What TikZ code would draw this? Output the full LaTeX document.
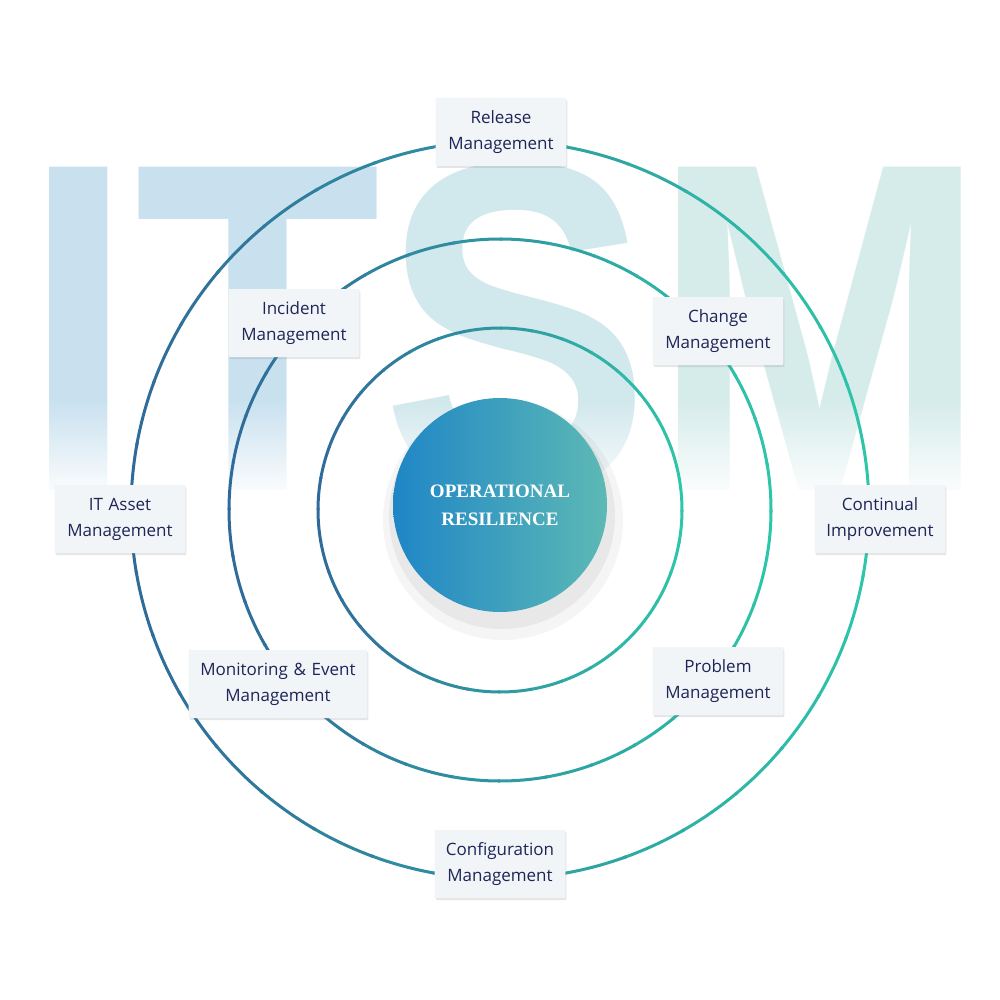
\documentclass[tikz,border=0pt]{standalone}
\usepackage{fontspec}
\setmainfont{Open Sans}
\newfontfamily\bigfont{Liberation Sans}
\newfontfamily\serifb{Liberation Serif}
\usetikzlibrary{shadows,fadings}
\definecolor{cA}{HTML}{2F6A9A}
\definecolor{cB}{HTML}{2EC6A9}
\definecolor{navy}{HTML}{1E2557}
\definecolor{boxf}{HTML}{F2F5F8}
\definecolor{lettL}{HTML}{C9E1EF}
\definecolor{lettR}{HTML}{D6ECEB}
\definecolor{gl}{HTML}{1F86C6}
\definecolor{gr}{HTML}{5DB9B5}
\tikzset{
  box/.style={draw=none,fill=boxf,rounded corners=1pt,minimum height=68pt,text width=#1,align=center,
    font=\fontsize{17}{26}\selectfont,text=navy,drop shadow={shadow xshift=1pt,shadow yshift=-2pt,opacity=0.2,fill=gray}},
  box/.default=124pt
}
\begin{document}
\begin{tikzpicture}[x=1pt,y=-1pt]
\useasboundingbox (0,0) rectangle (1000,1000);
\fill[white] (0,0) rectangle (1000,1000);
% big letters
\node[text=lettL,font=\bigfont\bfseries\fontsize{470}{470}\selectfont,xscale=0.86,inner sep=0,anchor=center] (itsm) at (505,329) {IT\textcolor{lettR!60!lettL}{S}\textcolor{lettR}{M}};
\fill[white,path fading=north] (0,400) rectangle (1000,500);
% rings
\foreach \r/\nm in {182/inner,271/mid,369/outer}{
  \foreach \i in {0,...,35}{
    \pgfmathsetmacro\a{\i*10}
    \pgfmathsetmacro\b{\a+10.5}
    \pgfmathsetmacro\m{round(50+50*cos(\a+5))}
    \draw[line width=3pt,color=cB!\m!cA] (500,510) ++(\a:\r) arc[start angle=\a,end angle=\b,radius=\r];
  }
}
\coordinate (ctr) at (500,510);
% center circle
\fill[black,opacity=0.04] (503,520) circle (120);
\fill[black,opacity=0.05] (502,516) circle (113);
\shade[left color=gl,right color=gr] (500,505) circle (107);
\node[text=white,align=center,font=\serifb\bfseries\fontsize{19}{28}\selectfont] (core) at (500,505) {OPERATIONAL\\RESILIENCE};
% boxes
\node[box] (rel) at (501,132) {Release\\Management};
\node[box] (inc) at (294,323) {Incident\\Management};
\node[box] (chg) at (718,331) {Change\\Management};
\node[box] (ita) at (120,519) {IT Asset\\Management};
\node[box] (con) at (880,519) {Continual\\Improvement};
\node[box=172pt] (mon) at (278,684) {Monitoring \& Event\\Management};
\node[box] (prb) at (718,681) {Problem\\Management};
\node[box] (cfg) at (500,864) {Configuration\\Management};
\end{tikzpicture}
\end{document}
